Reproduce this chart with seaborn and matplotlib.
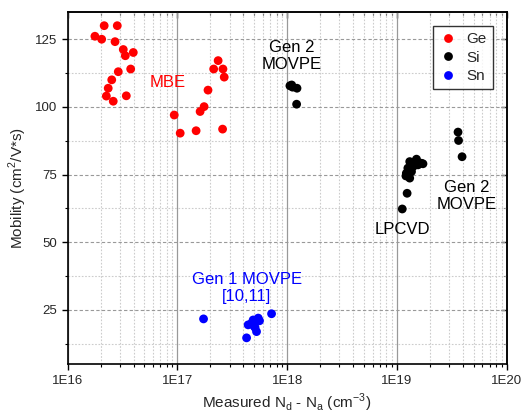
import numpy as np
import pandas as pd
import seaborn as sns
import matplotlib.pyplot as plt
from matplotlib.ticker import LogLocator, FixedLocator, FuncFormatter, NullFormatter

# Ge (MBE)
ge_x = [2.15e16, 2.83e16, 1.77e16, 2.04e16, 2.70e16, 3.21e16, 3.35e16, 3.96e16,
        2.89e16, 3.75e16, 2.52e16, 2.34e16, 2.25e16, 2.60e16, 3.42e16,
        9.35e16, 1.06e17, 1.48e17, 1.61e17, 1.75e17, 1.90e17, 2.35e17,
        2.14e17, 2.60e17, 2.67e17, 2.58e17]
ge_y = [130.0, 130.0, 126.1, 125.0, 124.1, 121.2, 118.9, 120.1,
        113.0, 114.0, 110.0, 106.9, 104.0, 102.1, 104.1,
        97.0, 90.3, 91.2, 98.3, 100.1, 106.2, 117.1,
        114.0, 114.0, 111.0, 91.8]

# Si (Gen 2 MOVPE + LPCVD)
si_x = [1.06e18, 1.12e18, 1.23e18, 1.10e18, 1.22e18,
        1.12e19, 1.24e19, 1.31e19, 1.51e19, 1.67e19, 1.41e19, 1.22e19, 1.31e19,
        1.36e19, 1.56e19, 1.26e19, 1.46e19, 1.73e19, 1.21e19,
        3.61e19, 3.65e19, 3.93e19]
si_y = [107.8, 107.3, 106.9, 108.1, 101.0,
        62.3, 68.1, 79.8, 80.7, 79.2, 78.0, 75.5, 73.7,
        76.1, 78.6, 77.4, 79.8, 79.0, 74.5,
        90.7, 87.6, 81.6]

# Sn (Gen 1 MOVPE)
sn_x = [1.73e17, 4.27e17, 7.21e17, 5.26e17, 4.90e17, 5.45e17, 4.41e17, 4.74e17,
        5.10e17, 5.60e17, 5.00e17]
sn_y = [21.7, 14.7, 23.6, 17.0, 21.3, 22.0, 19.5, 20.1, 18.5, 21.0, 19.0]

x_ticks = [1e16, 1e17, 1e18, 1e19, 1e20]
x_labels = ["1E16", "1E17", "1E18", "1E19", "1E20"]
y_ticks = [25, 50, 75, 100, 125]

df = pd.DataFrame({
    "conc": ge_x + si_x + sn_x,
    "mob": ge_y + si_y + sn_y,
    "dopant": ["Ge"] * len(ge_x) + ["Si"] * len(si_x) + ["Sn"] * len(sn_x),
})
colors = {"Ge": "#ff0000", "Si": "#000000", "Sn": "#0000ff"}

sns.set_style("white")
plt.rcParams["font.family"] = ["Liberation Sans", "DejaVu Sans"]

fig, ax = plt.subplots(figsize=(5.31, 4.19), dpi=100)
fig.subplots_adjust(left=0.1275, right=0.954, top=0.971, bottom=0.131)

sns.scatterplot(data=df, x="conc", y="mob", hue="dopant", palette=colors,
                hue_order=["Ge", "Si", "Sn"], s=40, edgecolor="none",
                ax=ax, zorder=3)

ax.set_xscale("log")
ax.set_xlim(1e16, 1e20)
ax.set_ylim(5, 135)

ax.xaxis.set_major_locator(FixedLocator(x_ticks))
ax.xaxis.set_major_formatter(FuncFormatter(lambda v, p: x_labels[x_ticks.index(v)] if v in x_ticks else ""))
ax.xaxis.set_minor_locator(LogLocator(base=10, subs=np.arange(2, 10)))
ax.xaxis.set_minor_formatter(NullFormatter())
ax.yaxis.set_major_locator(FixedLocator(y_ticks))
ax.yaxis.set_minor_locator(FixedLocator([12.5, 37.5, 62.5, 87.5, 112.5]))

ax.grid(which="major", axis="x", color="#999999", lw=0.9, ls="-")
ax.grid(which="minor", axis="x", color="#cccccc", lw=0.8, ls=(0, (1.5, 1.5)))
ax.grid(which="major", axis="y", color="#999999", lw=0.8, ls=(0, (3, 2)))
ax.grid(which="minor", axis="y", color="#cccccc", lw=0.8, ls=(0, (1.5, 1.5)))
ax.set_axisbelow(True)

for sp in ax.spines.values():
    sp.set_color("black")
    sp.set_linewidth(1.2)

ax.tick_params(which="major", direction="out", length=4, width=1, color="black",
               labelsize=9.5, bottom=True, left=True)
ax.tick_params(which="minor", direction="out", length=2.5, width=0.8, color="black",
               bottom=True, left=True)

top = ax.secondary_xaxis("top")
top.set_xscale("log")
top.xaxis.set_major_locator(FixedLocator(x_ticks))
top.xaxis.set_minor_locator(LogLocator(base=10, subs=np.arange(2, 10)))
top.tick_params(which="major", direction="in", length=4, width=1, labeltop=False)
top.tick_params(which="minor", direction="in", length=2.5, width=0.8, labeltop=False)
top.xaxis.set_major_formatter(NullFormatter())
top.xaxis.set_minor_formatter(NullFormatter())
top.spines["top"].set_linewidth(1.2)

right = ax.secondary_yaxis("right")
right.yaxis.set_major_locator(FixedLocator(y_ticks))
right.yaxis.set_minor_locator(FixedLocator([12.5, 37.5, 62.5, 87.5, 112.5]))
right.tick_params(which="major", direction="in", length=4, width=1, labelright=False)
right.tick_params(which="minor", direction="in", length=2.5, width=0.8, labelright=False)
right.spines["right"].set_linewidth(1.2)

ax.set_xlabel("Measured N$_\\mathregular{d}$ - N$_\\mathregular{a}$ (cm$^\\mathregular{-3}$)", fontsize=11, labelpad=4)
ax.set_ylabel("Mobility (cm$^\\mathregular{2}$/V*s)", fontsize=11, labelpad=4)

ax.text(8.2e16, 108.9, "MBE", color="#ff0000", fontsize=12, ha="center", va="center")
ax.text(1.10e18, 118.7, "Gen 2\nMOVPE", color="black", fontsize=12, ha="center", va="center",
        linespacing=1.15)
ax.text(4.27e17, 33.0, "Gen 1 MOVPE\n[10,11]", color="#0000ff", fontsize=12, ha="center",
        va="center", linespacing=1.15)
ax.text(1.13e19, 54.6, "LPCVD", color="black", fontsize=12, ha="center", va="center")
ax.text(4.3e19, 67.2, "Gen 2\nMOVPE", color="black", fontsize=12, ha="center", va="center",
        linespacing=1.15)

leg = ax.legend(loc="upper right", frameon=True, fancybox=False, fontsize=11,
                borderaxespad=0.9, handletextpad=0.6, labelspacing=0.3,
                markerscale=1.0, borderpad=0.4, handlelength=1.2)
leg.get_frame().set_edgecolor("black")
leg.get_frame().set_linewidth(1.0)
leg.set_zorder(5)

fig.savefig("out.png", dpi=100)
